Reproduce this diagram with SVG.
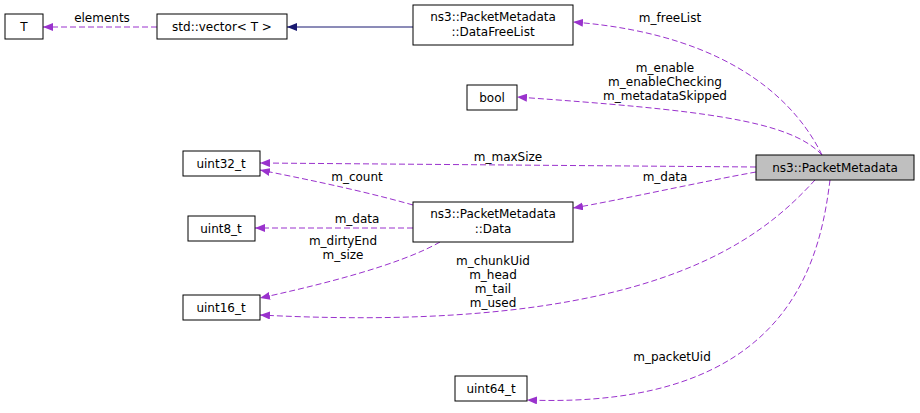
<svg xmlns="http://www.w3.org/2000/svg" width="920" height="413" viewBox="0 0 920 413">
<style>
.n rect{fill:#fff;stroke:#000;stroke-width:1}
text{font-family:"DejaVu Sans",sans-serif;font-size:12px;text-anchor:middle}
.e{fill:none;stroke:#9a32cd;stroke-dasharray:6,3}
.s{fill:none;stroke:#191970}
</style>
<defs>
<marker id="p" markerWidth="10" markerHeight="8" refX="10" refY="4" orient="auto" markerUnits="userSpaceOnUse"><path d="M0,0L10,4L0,8z" fill="#9a32cd"/></marker>
<marker id="b" markerWidth="10" markerHeight="8" refX="10" refY="4" orient="auto" markerUnits="userSpaceOnUse"><path d="M0,0L10,4L0,8z" fill="#191970"/></marker>
</defs>
<rect width="920" height="413" fill="#fff"/>
<g id="edges">
<path class="e" d="M157,27H43" marker-end="url(#p)"/><text x="102" y="22">elements</text>
<path class="s" d="M413,27H287" marker-end="url(#b)"/>
<path class="e" d="M822,155C800,110 740,35 573,22" marker-end="url(#p)"/><text x="670" y="22">m_freeList</text>
<path class="e" d="M822,155C790,120 700,110 517,97" marker-end="url(#p)"/>
<text x="665" y="72">m_enable</text><text x="665" y="86">m_enableChecking</text><text x="665" y="100">m_metadataSkipped</text>
<path class="e" d="M756,167L260,163" marker-end="url(#p)"/><text x="508" y="161">m_maxSize</text>
<path class="e" d="M756,172C700,182 620,200 573,208" marker-end="url(#p)"/><text x="665" y="181">m_data</text>
<path class="e" d="M413,205C360,190 300,178 260,170" marker-end="url(#p)"/><text x="357" y="181">m_count</text>
<path class="e" d="M413,228H255" marker-end="url(#p)"/><text x="357" y="223">m_data</text>
<path class="e" d="M440,242C400,265 320,285 260,298" marker-end="url(#p)"/><text x="343" y="245">m_dirtyEnd</text><text x="343" y="259">m_size</text>
<path class="e" d="M815,180C760,240 650,335 260,315" marker-end="url(#p)"/>
<text x="493" y="265">m_chunkUid</text><text x="493" y="279">m_head</text><text x="493" y="293">m_tail</text><text x="493" y="307">m_used</text>
<path class="e" d="M830,180C820,260 790,410 527,400" marker-end="url(#p)"/><text x="672" y="361">m_packetUid</text>
</g>
<g id="T" class="n"><rect x="5" y="14" width="38" height="25"/><text x="24" y="31">T</text></g>
<g id="vector" class="n"><rect x="157" y="14" width="130" height="25"/><text x="222" y="31">std::vector&lt; T &gt;</text></g>
<g id="DataFreeList" class="n"><rect x="413" y="5" width="160" height="40"/><text x="493" y="21">ns3::PacketMetadata</text><text x="493" y="36">::DataFreeList</text></g>
<g id="bool" class="n"><rect x="467" y="85" width="50" height="25"/><text x="492" y="102">bool</text></g>
<g id="uint32" class="n"><rect x="183" y="151" width="77" height="25"/><text x="221" y="168">uint32_t</text></g>
<g id="PacketMetadata" class="n"><rect x="756" y="155" width="158" height="25" style="fill:#bfbfbf"/><text x="835" y="172">ns3::PacketMetadata</text></g>
<g id="Data" class="n"><rect x="413" y="202" width="160" height="40"/><text x="493" y="218">ns3::PacketMetadata</text><text x="493" y="233">::Data</text></g>
<g id="uint8" class="n"><rect x="188" y="216" width="67" height="25"/><text x="221" y="233">uint8_t</text></g>
<g id="uint16" class="n"><rect x="183" y="295" width="77" height="25"/><text x="221" y="312">uint16_t</text></g>
<g id="uint64" class="n"><rect x="455" y="376" width="72" height="25"/><text x="491" y="393">uint64_t</text></g>
</svg>
